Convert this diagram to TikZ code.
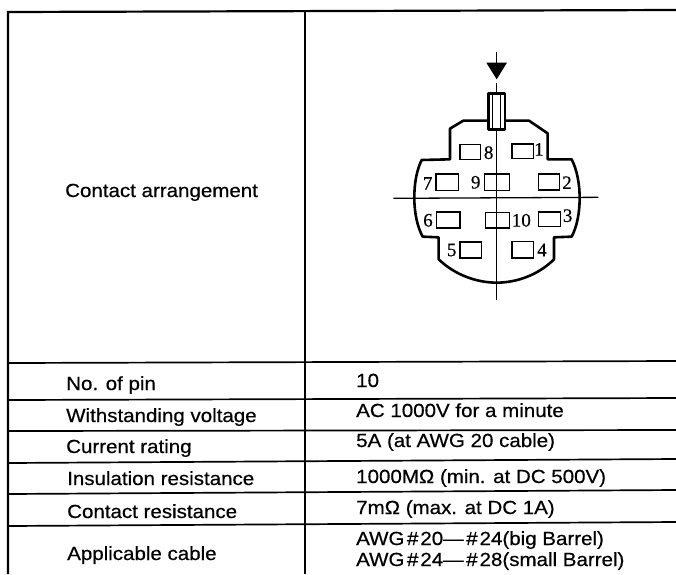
\documentclass[tikz,border=0pt]{standalone}
\usepackage{fontspec}
\setmainfont[FakeStretch=1.08,FakeBold=0.5]{Liberation Sans}
\newfontfamily\pinfont[FakeBold=0.5]{Liberation Serif}
\tikzset{
  x=1pt,y=-1pt,
  rule/.style={line width=2.2pt,black},
  thin rule/.style={line width=1.7pt,black},
  lab/.style={anchor=base west,inner sep=0pt,font=\fontsize{19}{20}\selectfont},
  pin/.style={inner sep=0pt,font=\pinfont\fontsize{19}{19}\selectfont},
  contact/.style={line width=1.5pt},
  outline/.style={line width=2.6pt,line join=round},
  axis/.style={line width=1.3pt}
}
\newcommand{\hs}{\kern2.5pt\#\kern2pt}
\begin{document}
\begin{tikzpicture}
\useasboundingbox (0,0) rectangle (676,574);
\fill[white] (0,0) rectangle (676,574);
% table
\draw[rule] (8,574) -- (8,12) -- (676,10);
\draw[rule] (305,11) -- (305,574);
\draw[thin rule] (8,363) -- (676,361);
\draw[thin rule] (8,400) -- (676,398);
\draw[thin rule] (8,431) -- (676,430);
\draw[thin rule] (8,463) -- (676,459);
\draw[thin rule] (8,494) -- (676,490);
\draw[thin rule] (8,526) -- (676,522);
% labels
\node[lab] (l0) at (65,197) {Contact arrangement};
\node[lab] (l1) at (66,390) {No. of pin};
\node[lab] (l2) at (66,422) {Withstanding voltage};
\node[lab] (l3) at (66,453) {Current rating};
\node[lab] (l4) at (67,485) {Insulation resistance};
\node[lab] (l5) at (67,518) {Contact resistance};
\node[lab] (l6) at (67,560) {Applicable cable};
\node[lab] (r1) at (356,387) {10};
\node[lab] (r2) at (356,417) {AC 1000V for a minute};
\node[lab] (r3) at (356,447) {5A (at AWG 20 cable)};
\node[lab] (r4) at (356,483) {1000MΩ (min. at DC 500V)};
\node[lab] (r5) at (356,514) {7mΩ (max. at DC 1A)};
\node[lab] (r6) at (356,545) {AWG\hs 20---\hs 24(big Barrel)};
\node[lab] (r7) at (356,566) {AWG\hs 24---\hs 28(small Barrel)};
% connector drawing
\begin{scope}[shift={(380,40)},x=0.3333pt,y=-0.3333pt]
\draw[axis] (40,475) -- (655,472);
\draw[axis] (350,130) -- (350,780);
\draw[axis] (349,35) -- (349,70);
\fill (319,68) -- (381,68) -- (350,118) -- cycle;
\draw[outline] (325,242) -- (250,242) -- (210,266) -- (210,358) -- (125,360)
  .. controls (95,420) and (95,530) .. (128,590) -- (176,592) -- (176,658)
  .. controls (225,705) and (290,728) .. (350,728)
  .. controls (410,728) and (475,705) .. (522,658) -- (522,592) -- (575,590)
  .. controls (607,530) and (607,420) .. (575,358) -- (503,358) -- (503,280)
  -- (447,242) -- (375,242);
\draw[outline,fill=white] (325,160) rectangle (375,268);
\draw[axis] (338,160) -- (338,268) (362,160) -- (362,268);
\draw[contact] (240,314) rectangle (302,358);
\draw[contact] (396,312) rectangle (460,356);
\draw[contact] (168,402) rectangle (236,452);
\draw[contact] (314,402) rectangle (388,452);
\draw[contact] (475,402) rectangle (538,450);
\draw[contact] (170,516) rectangle (240,564);
\draw[contact] (316,518) rectangle (388,564);
\draw[contact] (475,516) rectangle (542,560);
\draw[contact] (240,606) rectangle (304,654);
\draw[contact] (396,604) rectangle (460,654);
\node[pin] (p8) at (326,338) {8};
\node[pin] (p1) at (477,328) {1};
\node[pin] (p7) at (143,430) {7};
\node[pin] (p9) at (287,427) {9};
\node[pin] (p2) at (561,428) {2};
\node[pin] (p6) at (144,541) {6};
\node[pin] (p10) at (424,541) {10};
\node[pin] (p3) at (563,527) {3};
\node[pin] (p5) at (215,630) {5};
\node[pin] (p4) at (486,630) {4};
\end{scope}
\end{tikzpicture}
\end{document}
